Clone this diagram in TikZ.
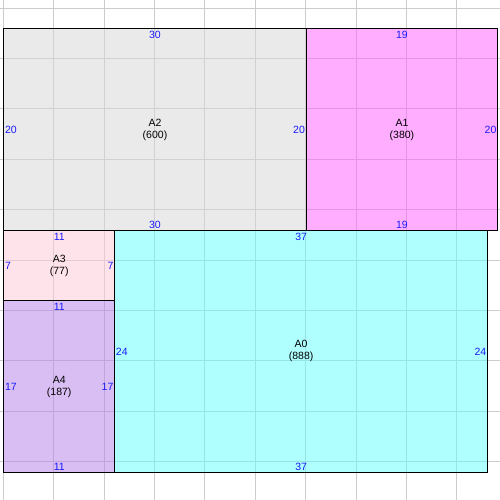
\documentclass[tikz,border=0pt]{standalone}
\usepackage{fontspec}
\setmainfont{Liberation Sans}
\definecolor{labblue}{RGB}{25,25,250}
\definecolor{gridgray}{RGB}{204,204,204}
\definecolor{cA2}{RGB}{215,215,215}
\definecolor{cA1}{RGB}{255,93,255}
\definecolor{cA3}{RGB}{255,201,217}
\definecolor{cA4}{RGB}{179,127,233}
\definecolor{cA0}{RGB}{97,255,255}
\begin{document}
\begin{tikzpicture}[x=10.08pt,y=-10.08pt,
  box/.style={draw=black,line width=1pt,inner sep=0pt,anchor=north west,align=center,
    fill opacity=0.5,text opacity=1,draw opacity=1,
    font=\fontsize{10.5}{12}\selectfont,text=black},
  lab/.style={text=labblue,font=\fontsize{10.5}{12}\selectfont,text height=7.5pt,text depth=0pt},
  tb/.style={lab,inner ysep=2.5pt,inner xsep=0pt},
  lr/.style={lab,inner xsep=1.6pt,inner ysep=0pt},
  gridline/.style={gridgray,line width=1pt}]
\useasboundingbox[fill=white] (-0.327,-2.808) rectangle (49.276,46.796);
% grid
\foreach \i in {0,5,...,45} \draw[gridline] (\i,-2.808) -- (\i,46.796);
\foreach \j in {-2,3,...,43} \draw[gridline] (-0.327,\j) -- (49.276,\j);
% rectangles
\node[box,fill=cA2,minimum width=302.4pt,minimum height=201.6pt] (A2) at (0,0) {A2\\(600)};
\node[box,fill=cA1,minimum width=191.52pt,minimum height=201.6pt] (A1) at (30,0) {A1\\(380)};
\node[box,fill=cA3,minimum width=110.88pt,minimum height=70.56pt] (A3) at (0,20) {A3\\(77)};
\node[box,fill=cA4,minimum width=110.88pt,minimum height=171.36pt] (A4) at (0,27) {A4\\(187)};
\node[box,fill=cA0,minimum width=372.96pt,minimum height=241.92pt] (A0) at (11,20) {A0\\(888)};
% side labels
\node[tb,below] (A2t) at (A2.north) {30};
\node[tb,above] (A2b) at (A2.south) {30};
\node[lr,right] (A2l) at (A2.west) {20};
\node[lr,left] (A2r) at (A2.east) {20};
\node[tb,below] (A1t) at (A1.north) {19};
\node[tb,above] (A1b) at (A1.south) {19};
\node[lr,left] (A1r) at (A1.east) {20};
\node[tb,below] (A3t) at (A3.north) {11};
\node[lr,right] (A3l) at (A3.west) {7};
\node[lr,left] (A3r) at (A3.east) {7};
\node[tb,below] (A4t) at (A4.north) {11};
\node[tb,above] (A4b) at (A4.south) {11};
\node[lr,right] (A4l) at (A4.west) {17};
\node[lr,left] (A4r) at (A4.east) {17};
\node[tb,below] (A0t) at (A0.north) {37};
\node[tb,above] (A0b) at (A0.south) {37};
\node[lr,right] (A0l) at (A0.west) {24};
\node[lr,left] (A0r) at (A0.east) {24};
\end{tikzpicture}
\end{document}
